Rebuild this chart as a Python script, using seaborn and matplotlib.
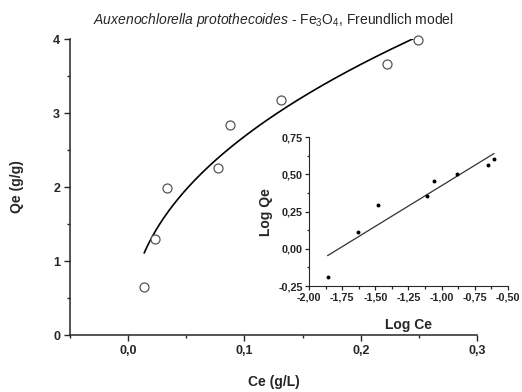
import numpy as np
import pandas as pd
import matplotlib
matplotlib.use("Agg")
import matplotlib.pyplot as plt
from matplotlib.ticker import MultipleLocator, FuncFormatter
import seaborn as sns

# Equilibrium data: Ce (g/L) and Qe (g/g)
ce = [0.0138, 0.0233, 0.0331, 0.0771, 0.0877, 0.1316, 0.2222, 0.2489]
qe = [0.65, 1.30, 1.98, 2.26, 2.84, 3.18, 3.66, 3.99]

title_text = r"$\it{Auxenochlorella\ protothecoides}$ - Fe$_3$O$_4$, Freundlich model"

sns.set_style("ticks")
plt.rcParams["font.family"] = ["Liberation Sans", "DejaVu Sans"]
plt.rcParams["font.weight"] = "bold"
plt.rcParams["mathtext.fontset"] = "custom"
plt.rcParams["mathtext.rm"] = "Liberation Sans:normal"
plt.rcParams["mathtext.it"] = "Liberation Sans:italic:normal"
plt.rcParams["mathtext.bf"] = "Liberation Sans:bold"

df = pd.DataFrame({"Ce": ce, "Qe": qe})
df["logCe"] = np.log10(df["Ce"])
df["logQe"] = np.log10(df["Qe"])

# Linearised Freundlich fit (log Qe = log K + n log Ce)
slope, intercept = np.polyfit(df["logCe"], df["logQe"], 1)
lin = pd.DataFrame({"x": [df["logCe"].min(), df["logCe"].max()]})
lin["y"] = intercept + slope * lin["x"]

# Non-linear Freundlich fit Qe = K * Ce^n (least squares over n, K closed form)
x = df["Ce"].to_numpy()
y = df["Qe"].to_numpy()
best = None
for n in np.linspace(0.2, 0.9, 1401):
    f = x ** n
    K = (f @ y) / (f @ f)
    sse = np.sum((y - K * f) ** 2)
    if best is None or sse < best[0]:
        best = (sse, K, n)
_, K_fit, n_fit = best
curve = pd.DataFrame({"x": np.linspace(x.min(), x.max(), 200)})
curve["y"] = K_fit * curve["x"] ** n_fit

comma = FuncFormatter(lambda v, p: f"{v:.1f}".replace(".", ","))
comma0 = FuncFormatter(lambda v, p: f"{v:.0f}")
comma2 = FuncFormatter(lambda v, p: f"{v:.2f}".replace(".", ",").replace("-0,00", "0,00"))

fig = plt.figure(figsize=(5.22, 3.92), dpi=100)
ax = fig.add_axes([0.134, 0.1454, 0.780, 0.7551])

sns.lineplot(data=curve, x="x", y="y", ax=ax, color="black", lw=1.2)
sns.scatterplot(data=df, x="Ce", y="Qe", ax=ax, s=42, marker="o",
                facecolor="white", edgecolor="#555555", linewidth=0.9,
                zorder=3, clip_on=False)

ax.set_xlim(-0.05, 0.3)
ax.set_ylim(0, 4)
ax.xaxis.set_major_locator(MultipleLocator(0.1))
ax.xaxis.set_minor_locator(MultipleLocator(0.05))
ax.yaxis.set_major_locator(MultipleLocator(1))
ax.yaxis.set_minor_locator(MultipleLocator(0.5))
ax.xaxis.set_major_formatter(comma)
ax.yaxis.set_major_formatter(comma0)
ax.tick_params(which="major", direction="out", length=4, width=1, labelsize=9, pad=3)
ax.tick_params(which="minor", direction="out", length=2.5, width=1)
for s in ("top", "right"):
    ax.spines[s].set_visible(False)
for s in ("left", "bottom"):
    ax.spines[s].set_linewidth(1.1)
ax.set_xlabel("Ce (g/L)", fontsize=10, fontweight="bold", labelpad=13)
ax.set_ylabel("Qe (g/g)", fontsize=10, fontweight="bold", labelpad=21)
fig.text(0.523, 0.950, title_text, ha="center", va="center", fontsize=10,
         fontweight="normal")

# Inset: linear form
ins = fig.add_axes([0.592, 0.2704, 0.381, 0.3793])
sns.lineplot(data=lin, x="x", y="y", ax=ins, color="#333333", lw=0.9)
sns.scatterplot(data=df, x="logCe", y="logQe", ax=ins, s=8, color="black",
                edgecolor="black", linewidth=0, zorder=3)
ins.set_xlim(-2.0, -0.5)
ins.set_ylim(-0.25, 0.75)
ins.xaxis.set_major_locator(MultipleLocator(0.25))
ins.xaxis.set_minor_locator(MultipleLocator(0.125))
ins.yaxis.set_major_locator(MultipleLocator(0.25))
ins.yaxis.set_minor_locator(MultipleLocator(0.125))
ins.xaxis.set_major_formatter(comma2)
ins.yaxis.set_major_formatter(comma2)
ins.tick_params(which="major", direction="out", length=3, width=0.9, labelsize=7.8, pad=1.5)
ins.tick_params(which="minor", direction="out", length=1.8, width=0.9)
for s in ("top", "right"):
    ins.spines[s].set_visible(False)
ins.patch.set_alpha(0)
ins.set_xlabel("Log Ce", fontsize=10, fontweight="bold", labelpad=11)
ins.set_ylabel("Log Qe", fontsize=10, fontweight="bold", labelpad=4)

fig.canvas.draw()
for a in (ax, ins):
    plt.setp(a.get_xticklabels() + a.get_yticklabels(), fontweight="bold")

fig.savefig("out.png", dpi=100)
